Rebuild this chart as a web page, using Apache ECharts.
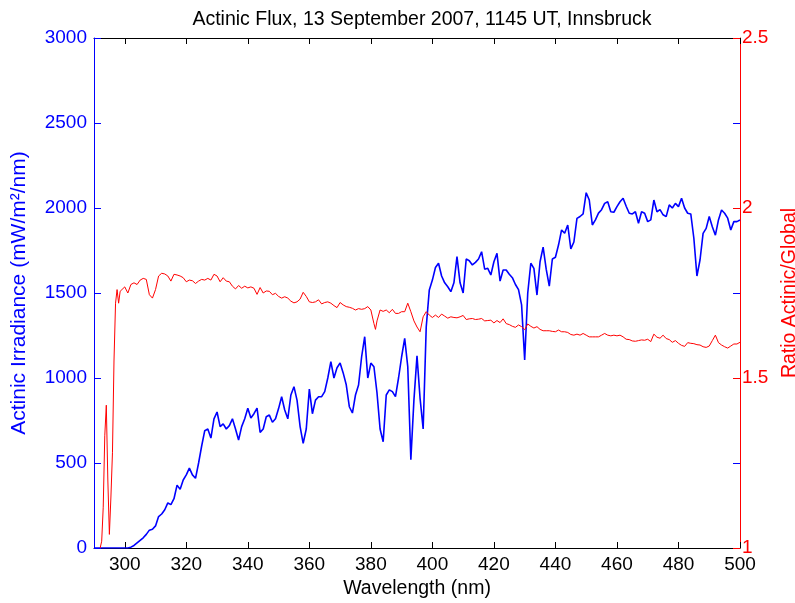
<!DOCTYPE html>
<html>
<head>
<meta charset="utf-8">
<script src="https://cdn.jsdelivr.net/npm/echarts@6/dist/echarts.min.js"></script>
<style>
html,body{margin:0;padding:0;background:#fff;overflow:hidden;}
#chart{width:795px;height:603px;}
</style>
</head>
<body>
<div id="chart"></div>
<script>
// Actinic irradiance (mW/m2/nm), wavelengths in nm
const wlIrr = [290,291,292,293,294,295,296,297,298,299,300,301,302,303,304,305,306,307,308,309,
310,311,312,313,314,315,316,317,318,319,320,321,322,323,324,325,326,327,328,329,
330,331,332,333,334,335,336,337,338,339,340,341,342,343,344,345,346,347,348,349,
350,351,352,353,354,355,356,357,358,359,360,361,362,363,364,365,366,367,368,369,
370,371,372,373,374,375,376,377,378,379,380,381,382,383,384,385,386,387,388,389,
390,391,392,393,394,395,396,397,398,399,400,401,402,403,404,405,406,407,408,409,
410,411,412,413,414,415,416,417,418,419,420,421,422,423,424,425,426,427,428,429,
430,431,432,433,434,435,436,437,438,439,440,441,442,443,444,445,446,447,448,449,
450,451,452,453,454,455,456,457,458,459,460,461,462,463,464,465,466,467,468,469,
470,471,472,473,474,475,476,477,478,479,480,481,482,483,484,485,486,487,488,489,
490,491,492,493,494,495,496,497,498,499,500];
const irradiance = [0,0,0,0,0,0,0,0,0,0,0,0,5,15,30,45,60,80,105,110,
130,185,200,225,265,255,290,370,345,400,430,470,430,410,500,600,690,700,647,760,
800,714,730,700,720,760,700,635,714,760,822,765,790,823,680,700,772,782,740,760,
820,890,812,760,900,949,870,714,616,700,935,790,870,890,890,920,1000,1096,1000,1060,
1088,1030,960,831,794,900,959,1125,1243,1000,1088,1066,912,700,625,900,930,920,890,1000,
1125,1233,1066,520,870,1130,880,700,1300,1518,1576,1650,1675,1600,1560,1537,1508,1560,1714,1560,
1500,1700,1690,1665,1680,1700,1743,1640,1645,1606,1684,1733,1570,1635,1635,1610,1590,1550,1520,1430,
1106,1500,1675,1645,1488,1684,1770,1640,1540,1700,1710,1782,1871,1851,1900,1760,1800,1939,1950,1965,
2090,2047,1900,1930,1970,1990,2027,2037,1978,1975,2008,2037,2057,2010,1969,1965,1978,1910,1978,1969,
1920,1930,2047,1978,1990,1960,1949,2018,2000,2027,2008,2057,2000,1969,1965,1822,1600,1694,1851,1880,
1950,1890,1840,1930,1988,1969,1940,1871,1920,1920,1929];

// Ratio actinic / global
const wlRatio = [292,292.5,293,293.5,294,294.5,295,295.5,296,296.5,297,297.5,298,298.5,299,
300,301,302,303,304,305,306,307,308,309,310,311,312,313,314,315,316,317,318,319,
320,321,322,323,324,325,326,327,328,329,330,331,332,333,334,335,336,337,338,339,
340,341,342,343,344,345,346,347,348,349,350,351,352,353,354,355,356,357,358,359,
360,361,362,363,364,365,366,367,368,369,370,371,372,373,374,375,376,377,378,379,
380,381,381.5,382,383,384,385,386,387,388,389,390,391,392,393,394,395,396,397,398,399,
400,401,402,403,404,405,406,407,408,409,410,411,412,413,414,415,416,417,418,419,
420,421,422,423,424,425,426,427,428,429,430,431,432,433,434,435,436,437,438,439,
440,441,442,443,444,445,446,447,448,449,450,451,452,453,454,455,456,457,458,459,
460,461,462,463,464,465,466,467,468,469,470,471,472,473,474,475,476,477,478,479,
480,481,482,483,484,485,486,487,488,489,490,491,492,493,494,495,496,497,498,499,500];
const ratio = [1.00,1.02,1.12,1.33,1.42,1.20,1.04,1.15,1.28,1.55,1.72,1.76,1.72,1.755,1.76,
1.768,1.75,1.775,1.78,1.775,1.788,1.793,1.79,1.745,1.735,1.76,1.80,1.808,1.806,1.80,1.785,1.805,1.803,1.80,1.795,
1.783,1.788,1.786,1.778,1.785,1.79,1.788,1.793,1.788,1.805,1.80,1.783,1.795,1.785,1.783,1.77,1.762,1.772,1.764,1.77,
1.765,1.768,1.764,1.746,1.766,1.75,1.756,1.755,1.745,1.749,1.74,1.735,1.739,1.735,1.726,1.721,1.724,1.732,1.752,1.74,
1.724,1.722,1.724,1.73,1.718,1.722,1.724,1.72,1.713,1.707,1.722,1.715,1.71,1.708,1.705,1.70,1.704,1.702,1.704,1.71,
1.70,1.66,1.643,1.668,1.70,1.696,1.70,1.692,1.702,1.69,1.69,1.695,1.695,1.72,1.695,1.668,1.65,1.636,1.68,1.695,1.685,
1.678,1.685,1.678,1.688,1.682,1.676,1.68,1.678,1.677,1.68,1.684,1.672,1.674,1.675,1.672,1.673,1.675,1.668,1.669,1.67,
1.662,1.669,1.663,1.674,1.66,1.657,1.652,1.649,1.656,1.651,1.642,1.659,1.652,1.647,1.651,1.643,1.639,1.639,1.639,1.637,
1.636,1.641,1.636,1.636,1.634,1.628,1.626,1.629,1.626,1.631,1.626,1.621,1.621,1.621,1.621,1.626,1.631,1.626,1.624,1.626,
1.624,1.626,1.621,1.614,1.613,1.609,1.608,1.61,1.612,1.611,1.614,1.607,1.629,1.62,1.617,1.626,1.616,1.613,1.605,1.61,
1.602,1.596,1.593,1.604,1.602,1.601,1.598,1.597,1.592,1.59,1.594,1.61,1.626,1.604,1.597,1.592,1.588,1.594,1.6,1.6,1.605];

const xTicks = [300,320,340,360,380,400,420,440,460,480,500];
const rightBlueTicks = [500,1500,2500];

const FONT = 'Liberation Sans, Arial, sans-serif';
const BLUE = '#0000ff', RED = '#ff0000';
const plain = v => String(v);

const chart = echarts.init(document.getElementById('chart'), null, {renderer: 'canvas', width: 795, height: 603});
chart.setOption({
  animation: false,
  backgroundColor: '#fff',
  title: {
    text: 'Actinic Flux, 13 September 2007, 1145 UT, Innsbruck',
    left: 417, top: 5, textAlign: 'center',
    textStyle: {fontFamily: FONT, fontSize: 19.5, fontWeight: 'normal', color: '#000'}
  },
  grid: {left: 94, right: 55, top: 38, bottom: 55, containLabel: false, outerBoundsMode: 'none'},
  xAxis: [{
    type: 'value', min: 290, max: 500, position: 'bottom',
    name: 'Wavelength (nm)', nameLocation: 'middle', nameGap: 31,
    nameTextStyle: {fontFamily: FONT, fontSize: 19.5, color: '#000'},
    axisLine: {show: true, onZero: false, lineStyle: {color: '#000', width: 1}},
    axisTick: {show: true, inside: true, length: 6, customValues: xTicks, lineStyle: {color: '#000'}},
    axisLabel: {show: true, customValues: xTicks, margin: 7, fontFamily: FONT, fontSize: 19, color: '#000', formatter: plain},
    splitLine: {show: false}
  }, {
    type: 'value', min: 290, max: 500, position: 'top',
    axisLine: {show: true, onZero: false, lineStyle: {color: '#000', width: 1}},
    axisTick: {show: true, inside: true, length: 6, customValues: xTicks, lineStyle: {color: '#000'}},
    axisLabel: {show: false},
    splitLine: {show: false}
  }],
  yAxis: [{
    type: 'value', min: 0, max: 3000, interval: 500, position: 'left',
    name: 'Actinic Irradiance (mW/m²/nm)', nameLocation: 'middle', nameGap: 64, nameRotate: 90,
    nameTextStyle: {fontFamily: FONT, fontSize: 21, color: BLUE},
    axisLine: {show: true, onZero: false, lineStyle: {color: BLUE, width: 1}},
    axisTick: {show: true, inside: true, length: 7, lineStyle: {color: BLUE}},
    axisLabel: {margin: 7, fontFamily: FONT, fontSize: 19, color: BLUE, formatter: plain},
    splitLine: {show: false}
  }, {
    type: 'value', min: 0, max: 3000, interval: 500, position: 'right',
    axisLine: {show: false},
    axisTick: {show: true, inside: true, length: 7, customValues: rightBlueTicks, lineStyle: {color: BLUE}},
    axisLabel: {show: false},
    splitLine: {show: false}
  }, {
    type: 'value', min: 1, max: 2.5, interval: 0.5, position: 'right',
    name: 'Ratio Actinic/Global', nameLocation: 'middle', nameGap: 35, nameRotate: 90,
    nameTextStyle: {fontFamily: FONT, fontSize: 19.5, color: RED},
    axisLine: {show: true, onZero: false, lineStyle: {color: RED, width: 1}},
    axisTick: {show: true, inside: true, length: 7, lineStyle: {color: RED}},
    axisLabel: {margin: 2, fontFamily: FONT, fontSize: 19, color: RED, formatter: plain},
    splitLine: {show: false}
  }],
  series: [{
    type: 'line', name: 'Actinic Irradiance', xAxisIndex: 0, yAxisIndex: 0,
    data: wlIrr.map((w, i) => [w, irradiance[i]]),
    showSymbol: false, symbol: 'none', smooth: false,
    lineStyle: {color: BLUE, width: 1.6}, itemStyle: {color: BLUE}
  }, {
    type: 'line', name: 'Ratio', xAxisIndex: 0, yAxisIndex: 2,
    data: wlRatio.map((w, i) => [w, ratio[i]]),
    showSymbol: false, symbol: 'none', smooth: false,
    lineStyle: {color: RED, width: 1}, itemStyle: {color: RED}
  }]
});
</script>
</body>
</html>
